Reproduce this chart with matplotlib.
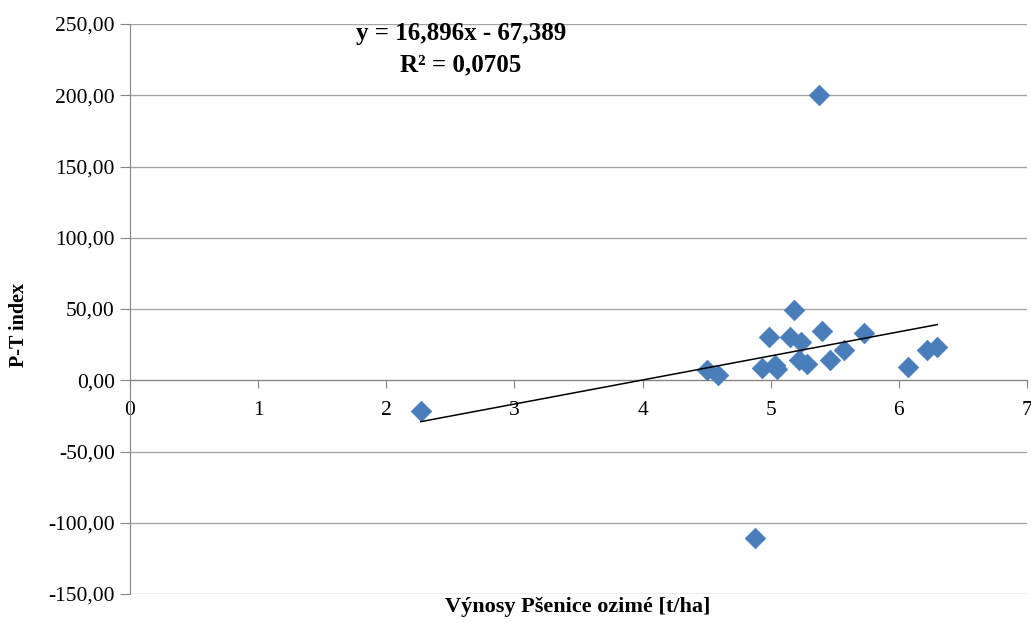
import matplotlib
matplotlib.use("Agg")
import matplotlib.pyplot as plt
import numpy as np
from matplotlib.ticker import FuncFormatter, MultipleLocator

# yield of winter wheat [t/ha] vs P-T index
vynosy = [2.27, 4.88, 5.38, 4.50, 4.585, 4.93, 4.99, 5.035, 5.05, 5.15, 5.178,
          5.22, 5.235, 5.28, 5.40, 5.46, 5.57, 5.73, 6.075, 6.22, 6.30]
pt_index = [-21.8, -111.0, 200.0, 7.5, 3.5, 8.7, 30.3, 11.0, 8.2, 30.3, 49.1,
            14.1, 27.0, 11.5, 34.5, 14.5, 20.9, 33.3, 9.4, 21.1, 23.2]
slope, intercept, r2 = 16.896, -67.389, 0.0705

plt.rcParams["font.family"] = ["Liberation Serif", "DejaVu Serif"]

fig = plt.figure(figsize=(10.31, 6.22), dpi=100)
ax = fig.add_axes([130 / 1031, 28 / 622, 897 / 1031, 570 / 622])

grid_col = "#a6a6a6"
ax.set_xlim(0, 7)
ax.set_ylim(-150, 250)
ax.yaxis.set_major_locator(MultipleLocator(50))
ax.xaxis.set_major_locator(MultipleLocator(1))
ax.yaxis.set_major_formatter(FuncFormatter(lambda v, p: f"{v:.2f}".replace(".", ",")))
ax.grid(True, axis="y", color=grid_col, linewidth=1.0)
ax.set_axisbelow(True)

for s in ("top", "right"):
    ax.spines[s].set_visible(False)
ax.spines["bottom"].set_position(("data", 0))
ax.spines["bottom"].set_color("#868686")
ax.spines["left"].set_color("#868686")
ax.tick_params(axis="y", direction="out", length=7, color="#868686", labelsize=15.5, pad=4)
ax.tick_params(axis="x", direction="out", length=6, color="#868686", labelsize=15.5, pad=9)

ax.scatter(vynosy, pt_index, marker="D", s=110, color="#4a7ebb", edgecolor="#4a7ebb",
           linewidth=0.5, zorder=3)

xs = np.array([min(vynosy), max(vynosy)])
ax.plot(xs, slope * xs + intercept, color="black", linewidth=1.1, zorder=4)

eq = f"y = {slope:.3f}x - {abs(intercept):.3f}".replace(".", ",")
ax.text(461 / 1031, 1 - 49 / 622, eq + "\n" + f"R² = {r2:.4f}".replace(".", ","),
        transform=fig.transFigure, ha="center", va="center", fontsize=18,
        fontweight="bold", linespacing=1.45)

fig.text(578 / 1031, 1 - 607 / 622, "Výnosy Pšenice ozimé [t/ha]", ha="center", va="center",
         fontsize=16, fontweight="bold")
fig.text(19 / 1031, 1 - 325 / 622, "P-T index", ha="center", va="center", rotation=90,
         fontsize=14.5, fontweight="bold")

fig.savefig("out.png", dpi=100)
